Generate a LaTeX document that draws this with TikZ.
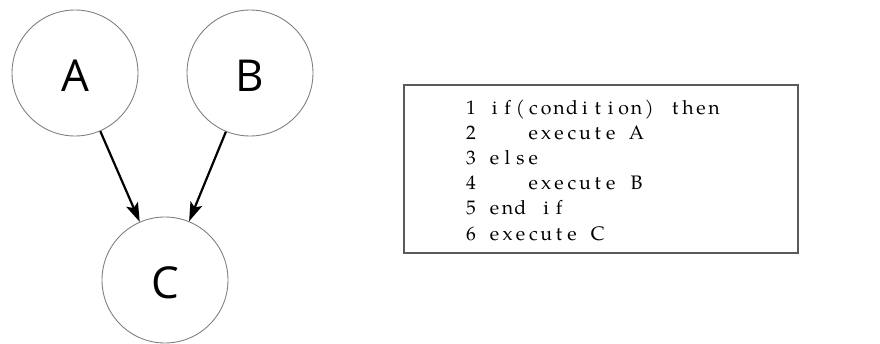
\documentclass[tikz,border=0pt]{standalone}
\usepackage{fontspec}
\usetikzlibrary{arrows.meta}
\newfontfamily\letterfont{Open Sans}
\newfontfamily\codefont{TeX Gyre Pagella}
\definecolor{ringgray}{HTML}{808080}
\definecolor{framegray}{HTML}{5A5A5A}

% typeset a line of code in fixed-width columns
\ExplSyntaxOn
\NewDocumentCommand\codeline{m}{\str_map_inline:nn {#1} {\makebox[12.9pt][c]{##1}}}
\ExplSyntaxOff
% vertex label, set a little below the centre of its circle
\newcommand\vlabel[1]{\raisebox{-3pt}[\height][0pt]{#1}}

\tikzset{
  vertex/.style={circle, draw=ringgray, line width=0.9pt, minimum size=126pt,
    inner sep=0pt, font=\letterfont\fontsize{44}{46}\selectfont},
  edge/.style={-{Stealth[length=19pt,width=12.5pt,inset=4pt]}, line width=2.2pt, black},
  codebox/.style={draw=framegray, line width=1.2pt, minimum width=394pt,
    minimum height=168pt, inner sep=0pt},
  codetext/.style={anchor=base west, inner sep=0pt, font=\codefont\fontsize{19.5}{25}\selectfont},
  codenum/.style={anchor=base east, inner sep=0pt, font=\codefont\fontsize{19.5}{25}\selectfont},
}

\begin{document}
\begin{tikzpicture}[x=1pt, y=-1pt]
  \useasboundingbox (0,0) rectangle (880,343);

  % control-flow graph
  \node[vertex] (A) at (75,73) {\vlabel{A}};
  \node[vertex] (B) at (250,73) {\vlabel{B}};
  \node[vertex] (C) at (165,280) {\vlabel{C}};
  \draw[edge] (A) -- (C);
  \draw[edge] (B) -- (C);

  % pseudo-code listing
  \node[codebox] (box) at (601,169) {};
  \node[codenum] (n1) at (476,114) {1};
  \node[codenum] (n2) at (476,139.2) {2};
  \node[codenum] (n3) at (476,164.4) {3};
  \node[codenum] (n4) at (476,189.6) {4};
  \node[codenum] (n5) at (476,214.8) {5};
  \node[codenum] (n6) at (476,240) {6};
  \node[codetext] (l1) at (488,114) {\codeline{if(condition) then}};
  \node[codetext] (l2) at (526.7,139.2) {\codeline{execute A}};
  \node[codetext] (l3) at (488,164.4) {\codeline{else}};
  \node[codetext] (l4) at (526.7,189.6) {\codeline{execute B}};
  \node[codetext] (l5) at (488,214.8) {\codeline{end if}};
  \node[codetext] (l6) at (488,240) {\codeline{execute C}};
\end{tikzpicture}
\end{document}
